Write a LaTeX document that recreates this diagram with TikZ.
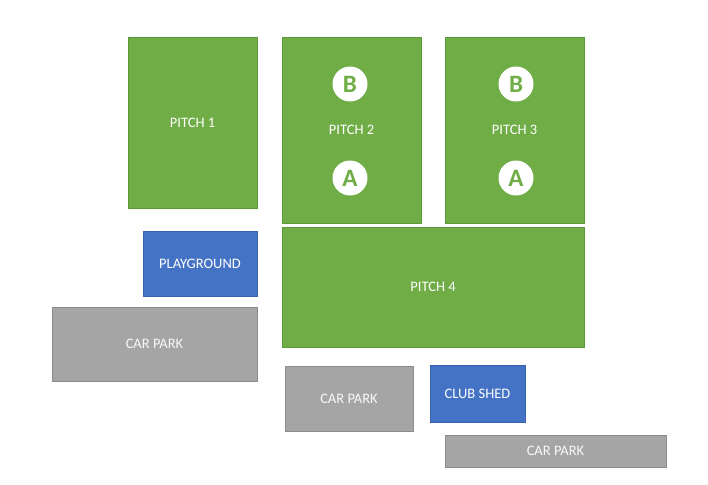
\documentclass[tikz,border=0pt]{standalone}
\usepackage{fontspec}
\setmainfont{Carlito}
\usetikzlibrary{positioning}
\definecolor{pitchgreen}{HTML}{70AD47}
\definecolor{pitchline}{HTML}{5A9A38}
\definecolor{shedblue}{HTML}{4472C4}
\definecolor{shedline}{HTML}{3A62AE}
\definecolor{parkgrey}{HTML}{A5A5A5}
\definecolor{parkline}{HTML}{8C8C8C}

\begin{document}
\begin{tikzpicture}[x=1pt, y=-1pt,
    pitch/.style={draw=pitchline, fill=pitchgreen, text=white, inner sep=0pt, font=\fontsize{14.5}{16}\selectfont},
    shed/.style={draw=shedline, fill=shedblue, text=white, inner sep=0pt, font=\fontsize{14.5}{16}\selectfont},
    park/.style={draw=parkline, fill=parkgrey, text=white!92!parkgrey, inner sep=0pt, font=\fontsize{14.5}{16}\selectfont},
    goal/.style={circle, fill=white, text=pitchgreen, minimum size=35pt, inner sep=0pt, font=\bfseries\fontsize{25}{27}\selectfont}]
    \useasboundingbox (0,0) rectangle (708,484);
    \node (Pitch1) [pitch, minimum width=129pt, minimum height=171pt] at (192.5,122.5) {PITCH 1};
    \node (Pitch2) [pitch, minimum width=139pt, minimum height=186pt] at (351.5,130) {PITCH 2};
    \node (Pitch3) [pitch, minimum width=139pt, minimum height=186pt] at (514.5,130) {PITCH 3};
    \node (Pitch4) [pitch, minimum width=302pt, minimum height=120pt] at (433,287) {PITCH 4};
    \node (GoalB2) [goal] at (350,84) {B};
    \node (GoalA2) [goal] at (350,178) {A};
    \node (GoalB3) [goal] at (516,84) {B};
    \node (GoalA3) [goal] at (516,178) {A};
    \node (Play) [shed, minimum width=114pt, minimum height=65pt] at (200,263.5) {PLAYGROUND};
    \node (Shed) [shed, minimum width=95pt, minimum height=57pt] at (477.5,393.5) {CLUB SHED};
    \node (Park1) [park, minimum width=205pt, minimum height=74pt] at (154.5,344) {CAR PARK};
    \node (Park2) [park, minimum width=128pt, minimum height=65pt] at (349,398.5) {CAR PARK};
    \node (Park3) [park, minimum width=221pt, minimum height=32pt] at (555.5,451) {CAR PARK};
\end{tikzpicture}
\end{document}
